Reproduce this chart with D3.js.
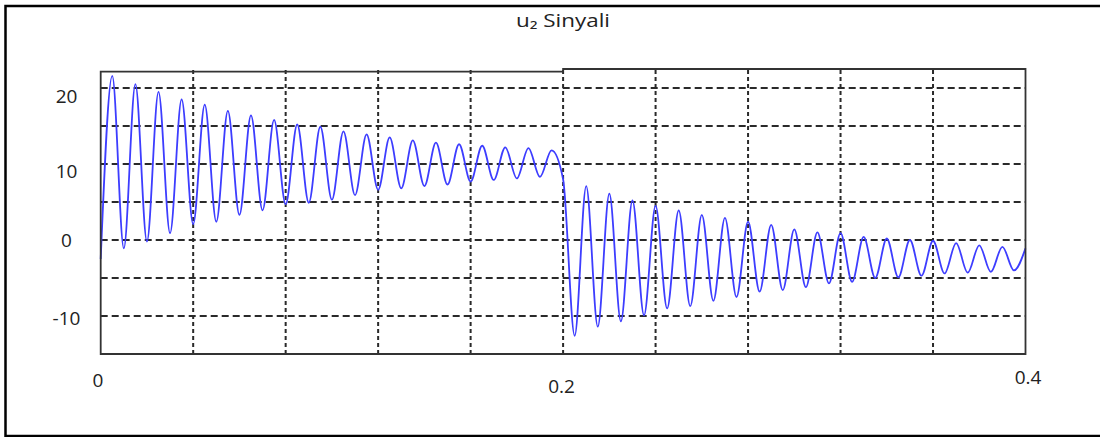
<!DOCTYPE html>
<html>
<head>
<meta charset="utf-8">
<script src="https://cdn.jsdelivr.net/npm/d3@7"></script>
<style>
  html, body { margin: 0; padding: 0; background: #fff; }
  svg { display: block; }
  text { font-family: "Open Sans", "Noto Sans", "DejaVu Sans", sans-serif; fill: #222; }
</style>
</head>
<body>
<svg id="chart" width="1100" height="437"></svg>
<script>
// u2 signal: successive peaks and troughs of the oscillation (time in s, value)
const sampleTimes = [
  0.000, 0.005, 0.010, 0.015, 0.020, 0.025, 0.030, 0.035, 0.040, 0.045,
  0.050, 0.055, 0.060, 0.065, 0.070, 0.075, 0.080, 0.085, 0.090, 0.095,
  0.100, 0.105, 0.110, 0.115, 0.120, 0.125, 0.130, 0.135, 0.140, 0.145,
  0.150, 0.155, 0.160, 0.165, 0.170, 0.175, 0.180, 0.185, 0.190, 0.195,
  0.200, 0.205, 0.210, 0.215, 0.220, 0.225, 0.230, 0.235, 0.240, 0.245,
  0.250, 0.255, 0.260, 0.265, 0.270, 0.275, 0.280, 0.285, 0.290, 0.295,
  0.300, 0.305, 0.310, 0.315, 0.320, 0.325, 0.330, 0.335, 0.340, 0.345,
  0.350, 0.355, 0.360, 0.365, 0.370, 0.375, 0.380, 0.385, 0.390, 0.395,
  0.400
];
const sampleValues = [
  -2.5, 21.6, -1.1, 20.5, -0.2, 19.5,  0.9, 18.5,  2.1, 17.8,
   2.4, 17.0,  3.3, 16.4,  3.9, 15.8,  4.7, 15.2,  4.9, 14.9,
   5.3, 14.3,  5.9, 13.9,  6.6, 13.5,  6.8, 13.1,  7.1, 12.8,
   7.3, 12.6,  7.7, 12.4,  7.9, 12.2,  8.1, 12.1,  8.3, 11.8,
   8.0, -12.6, 7.1, -11.4, 6.1, -10.7, 5.2, -9.9,  4.5, -9.0,
   3.9, -8.7,  3.3, -8.0,  2.9, -7.5,  2.4, -6.8,  2.0, -6.6,
   1.4, -6.2,  1.0, -5.7,  0.9, -5.5,  0.4, -5.0,  0.2, -4.9,
   0.0, -4.7, -0.1, -4.4, -0.4, -4.3, -0.7, -4.2, -0.9, -4.0,
  -1.1
];
const xTickValues = [0, 0.2, 0.4];
const xTickLabels = ["0", "0.2", "0.4"];
const xGridValues = [0.04, 0.08, 0.12, 0.16, 0.2, 0.24, 0.28, 0.32, 0.36];
const yTickValues = [20, 10, 0, -10];
const yTickLabels = ["20", "10", "0", "-10"];
const yGridValues = [20, 15, 10, 5, 0, -5, -10];
const chartTitle = "u\u2082 Sinyali";

const svg = d3.select("#chart");

// outer frame
svg.append("rect")
  .attr("x", 5.5).attr("y", 6)
  .attr("width", 1110).attr("height", 430)
  .attr("fill", "none").attr("stroke", "#000").attr("stroke-width", 2.5);

const x = d3.scaleLinear().domain([0, 0.4]).range([100.7, 1025.5]);
const y = d3.scaleLinear().domain([-15, 22.5]).range([354, 69]);

// title
svg.append("text")
  .attr("x", 563).attr("y", 27)
  .attr("text-anchor", "middle")
  .attr("textLength", 94)
  .attr("lengthAdjust", "spacingAndGlyphs")
  .style("font-size", "18px")
  .text(chartTitle);

// grid
const grid = svg.append("g");
grid.selectAll("line.h").data(yGridValues).join("line")
  .attr("class", "h")
  .attr("x1", x(0)).attr("x2", x(0.4))
  .attr("y1", d => y(d)).attr("y2", d => y(d))
  .attr("stroke", "#2a2a2a").attr("stroke-width", 2)
  .attr("stroke-dasharray", "7,4");
grid.selectAll("line.v").data(xGridValues).join("line")
  .attr("class", "v")
  .attr("x1", d => x(d)).attr("x2", d => x(d))
  .attr("y1", y(-15)).attr("y2", y(22.5))
  .attr("stroke", "#2a2a2a").attr("stroke-width", 2)
  .attr("stroke-dasharray", "4,3");

// signal
const line = d3.line()
  .x((d, i) => x(sampleTimes[i]))
  .y(d => y(d))
  .curve(d3.curveMonotoneX);
svg.append("path")
  .datum(sampleValues)
  .attr("d", line)
  .attr("fill", "none")
  .attr("stroke", "#3d3dff")
  .attr("stroke-width", 1.8);

// plot border (top edge steps at the midpoint)
const xl = x(0), xm = x(0.2), xr = x(0.4), yb = y(-15), yt = y(22.5);
svg.append("path")
  .attr("d", `M${xl},${yb}L${xl},${yt + 2.7}L${xm},${yt + 2.7}L${xm},${yt}L${xr},${yt}L${xr},${yb}Z`)
  .attr("fill", "none").attr("stroke", "#333").attr("stroke-width", 1.8);

// axis labels
const xLabelShift = [[-2.7, 380], [-1.5, 386], [2.5, 377]];
svg.selectAll("text.xt").data(xTickValues).join("text")
  .attr("class", "xt")
  .attr("x", (d, i) => x(d) + xLabelShift[i][0])
  .attr("y", (d, i) => xLabelShift[i][1])
  .attr("text-anchor", "middle")
  .attr("dominant-baseline", "central")
  .style("font-size", "19px")
  .text((d, i) => xTickLabels[i]);

const yLabelShift = [8, 6.5, 0, 2];
svg.selectAll("text.yt").data(yTickValues).join("text")
  .attr("class", "yt")
  .attr("x", 66.5)
  .attr("y", (d, i) => y(d) + yLabelShift[i])
  .attr("text-anchor", "middle")
  .attr("dominant-baseline", "central")
  .style("font-size", "19px")
  .text((d, i) => yTickLabels[i]);
</script>
</body>
</html>
